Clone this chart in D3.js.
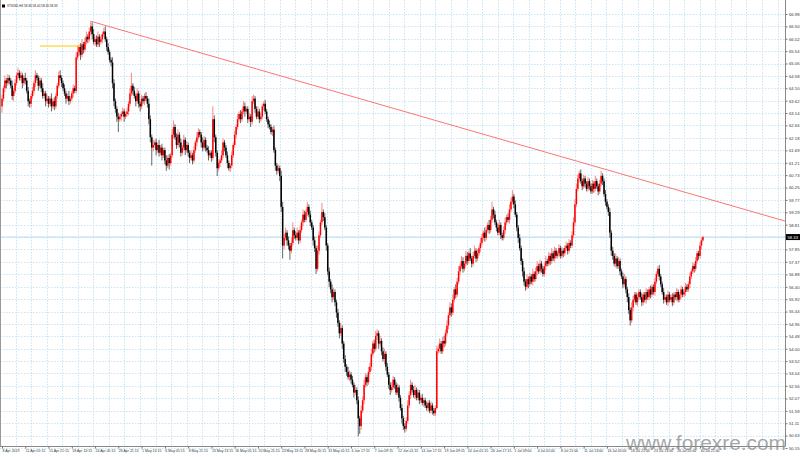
<!DOCTYPE html>
<html><head><meta charset="utf-8">
<script src="https://cdn.jsdelivr.net/npm/d3@7"></script>
<style>body{margin:0;background:#fff}svg{display:block}</style>
</head><body><svg id="c" width="800" height="457"></svg>
<script>
// ---- data ----
const title = "XTIUSD,H4  58.36 58.40 58.30 58.33";
const firstOpen = 63.4;
const closes = [
63.7,64.1,64.4,64.3,64.5,64.4,64.2,63.8,64.0,64.3,64.6,64.7,64.5,64.6,64.3,64.5,64.4,64.0,63.6,63.5,
63.8,64.0,64.3,64.6,64.5,64.2,64.4,64.1,63.8,63.9,63.6,63.7,63.5,63.7,63.4,63.6,63.4,63.8,64.2,64.6,
64.5,64.3,64.1,63.9,63.7,63.8,63.6,63.7,63.9,64.1,64.0,65.3,65.5,65.7,65.4,65.8,65.6,65.9,66.1,66.0,
66.3,66.5,66.2,65.9,66.0,65.8,66.1,65.9,66.0,66.2,66.3,66.0,65.7,65.5,65.2,65.1,64.3,63.6,63.3,63.0,
62.9,63.0,63.1,63.2,63.0,63.1,63.2,63.5,63.9,64.2,64.0,63.8,63.6,63.9,63.5,63.4,63.7,63.6,63.8,63.7,
63.5,62.9,62.2,61.8,61.9,62.0,61.7,61.9,61.6,61.8,61.5,61.7,61.3,61.1,61.4,61.2,61.5,62.3,62.6,62.2,
61.9,62.3,62.0,61.6,61.8,62.1,61.7,61.9,61.6,61.4,61.5,61.3,61.7,62.0,62.2,62.4,62.3,62.0,61.8,62.1,
61.8,61.7,61.5,61.6,61.4,62.9,62.2,61.6,61.0,61.2,61.3,61.5,62.0,61.8,61.5,61.2,61.0,61.1,61.5,61.9,
62.3,62.6,62.9,63.1,62.9,63.2,63.4,63.2,63.3,62.9,63.0,62.8,63.6,63.7,63.3,63.0,63.2,62.9,63.0,63.4,
63.5,63.2,62.9,62.7,62.6,62.4,62.5,61.7,61.1,60.9,61.0,60.7,59.5,58.0,58.3,58.5,58.2,58.0,57.8,58.1,
58.6,58.4,58.3,58.5,58.2,58.6,58.9,59.2,59.0,59.3,59.5,59.2,58.9,58.7,58.2,57.9,57.1,57.8,58.4,58.9,
59.3,59.1,58.7,58.0,57.0,56.6,56.3,56.0,56.2,55.8,55.4,55.0,54.6,54.8,54.2,53.6,53.3,53.1,52.9,53.0,
52.8,52.6,52.3,52.4,52.0,51.3,51.0,51.6,52.0,52.6,52.9,52.7,53.1,53.3,53.8,54.2,54.0,54.5,54.6,54.2,
54.3,53.9,53.6,53.8,53.3,53.0,52.6,52.4,52.5,52.8,52.6,52.3,52.5,52.1,51.7,51.3,51.0,50.9,51.2,51.8,
52.2,52.6,52.4,52.2,52.4,52.1,52.3,52.0,52.1,51.9,52.0,51.8,51.7,51.9,51.6,51.8,51.6,51.5,51.7,53.9,
54.0,54.2,53.9,54.3,54.2,54.6,54.9,55.3,55.6,55.4,55.9,56.3,56.1,56.6,57.0,57.2,57.4,57.1,57.3,57.6,
57.4,57.7,57.5,57.3,57.6,57.8,57.5,57.7,57.9,58.1,58.3,58.5,58.3,58.6,58.8,58.6,59.0,59.4,59.2,58.9,
58.7,58.5,58.8,58.4,58.3,58.6,58.9,59.1,59.0,59.4,59.7,59.9,59.6,59.2,58.7,58.3,57.9,57.4,57.0,56.6,
56.4,56.7,56.5,56.8,56.6,56.9,56.7,57.0,57.2,57.0,57.3,57.1,56.9,57.2,57.4,57.3,57.6,57.4,57.7,57.5,
57.8,57.6,57.7,57.9,57.6,57.8,57.7,57.9,58.0,57.8,58.1,58.0,58.4,58.9,59.6,60.2,60.6,60.8,60.5,60.3,
60.6,60.4,60.2,60.5,60.3,60.1,60.4,60.2,60.5,60.3,60.1,60.4,60.7,60.5,60.0,59.7,59.5,59.3,58.5,57.8,
57.6,57.3,57.5,57.2,57.4,57.0,56.8,56.5,56.7,56.3,56.0,55.5,55.1,55.6,55.9,56.1,55.8,56.0,56.2,56.0,
55.8,56.1,55.9,56.2,56.0,56.3,56.1,56.4,56.2,56.6,56.9,57.1,56.8,56.5,56.2,55.9,56.0,55.8,56.1,55.9,
56.0,55.8,56.1,56.0,56.2,55.9,56.1,56.3,56.1,56.2,56.4,56.3,56.5,56.8,57.0,57.2,57.1,57.4,57.7,57.6,
58.0,58.2,58.33];
const upWick = [
0.15,0.1,0.2,0.1,0.15,0.1,0.1,0.2,0.1,0.15,0.1,0.2,0.1,0.15,0.1,0.1,0.2,0.1,0.15,0.1,
0.1,0.15,0.1,0.2,0.1,0.1,0.15,0.1,0.2,0.1,0.1,0.15,0.1,0.1,0.2,0.1,0.15,0.1,0.1,0.15,
0.2,0.1,0.1,0.15,0.1,0.1,0.2,0.1,0.1,0.15,0.1,0.2,0.25,0.1,0.15,0.2,0.1,0.15,0.2,0.1,
0.15,0.2,0.15,0.2,0.1,0.15,0.2,0.1,0.15,0.1,0.15,0.2,0.1,0.15,0.1,0.1,0.2,0.15,0.1,0.1,
0.15,0.1,0.1,0.15,0.1,0.1,0.15,0.1,0.2,0.5,0.1,0.15,0.1,0.2,0.1,0.1,0.15,0.1,0.1,0.15,
0.1,0.2,0.15,0.1,0.2,0.1,0.15,0.1,0.2,0.1,0.15,0.1,0.1,0.2,0.1,0.15,0.1,0.2,0.25,0.1,
0.15,0.2,0.1,0.15,0.1,0.2,0.1,0.15,0.1,0.1,0.2,0.1,0.15,0.1,0.2,0.15,0.1,0.1,0.2,0.15,
0.1,0.1,0.15,0.1,0.1,0.5,0.15,0.1,0.1,0.15,0.1,0.2,0.15,0.1,0.1,0.15,0.1,0.1,0.15,0.1,
0.15,0.1,0.2,0.1,0.15,0.1,0.2,0.15,0.1,0.1,0.15,0.1,0.2,0.15,0.1,0.1,0.2,0.1,0.15,0.1,
0.1,0.15,0.1,0.1,0.15,0.1,0.1,0.15,0.1,0.1,0.15,0.1,0.2,0.2,0.15,0.2,0.1,0.15,0.1,0.2,
0.3,0.1,0.15,0.2,0.1,0.15,0.1,0.2,0.15,0.1,0.2,0.1,0.15,0.1,0.1,0.15,0.1,0.2,0.15,0.1,
0.35,0.1,0.15,0.1,0.1,0.15,0.1,0.2,0.15,0.1,0.1,0.15,0.1,0.2,0.1,0.1,0.15,0.1,0.2,0.15,
0.1,0.15,0.1,0.2,0.1,0.15,0.1,0.2,0.15,0.2,0.15,0.1,0.2,0.15,0.2,0.1,0.15,0.2,0.15,0.1,
0.2,0.1,0.15,0.2,0.1,0.15,0.1,0.1,0.2,0.15,0.1,0.1,0.15,0.1,0.1,0.15,0.1,0.1,0.15,0.2,
0.15,0.2,0.1,0.15,0.2,0.1,0.15,0.1,0.1,0.15,0.1,0.1,0.15,0.1,0.1,0.15,0.1,0.1,0.1,0.2,
0.15,0.2,0.1,0.15,0.2,0.15,0.2,0.1,0.2,0.15,0.2,0.1,0.2,0.15,0.2,0.1,0.2,0.15,0.1,0.2,
0.15,0.1,0.2,0.1,0.15,0.2,0.1,0.15,0.1,0.2,0.15,0.1,0.2,0.15,0.1,0.2,0.15,0.3,0.1,0.15,
0.1,0.15,0.2,0.1,0.1,0.15,0.2,0.1,0.15,0.2,0.15,0.25,0.1,0.15,0.1,0.1,0.15,0.1,0.1,0.15,
0.1,0.2,0.1,0.15,0.1,0.2,0.1,0.15,0.2,0.1,0.15,0.1,0.1,0.15,0.2,0.1,0.15,0.1,0.2,0.1,
0.15,0.1,0.1,0.15,0.1,0.15,0.1,0.1,0.15,0.1,0.15,0.1,0.15,0.2,0.2,0.2,0.15,0.1,0.15,0.1,
0.15,0.1,0.1,0.15,0.1,0.1,0.15,0.1,0.2,0.1,0.1,0.15,0.2,0.1,0.1,0.15,0.1,0.1,0.15,0.1,
0.15,0.1,0.2,0.1,0.15,0.1,0.1,0.15,0.2,0.1,0.1,0.15,0.1,0.2,0.15,0.1,0.1,0.15,0.1,0.1,
0.15,0.1,0.1,0.15,0.1,0.1,0.15,0.1,0.1,0.15,0.1,0.1,0.15,0.1,0.1,0.15,0.1,0.1,0.15,0.1,
0.1,0.15,0.1,0.1,0.15,0.1,0.1,0.15,0.1,0.1,0.15,0.1,0.1,0.15,0.1,0.15,0.1,0.15,0.1,0.1,
0.15,0.1,0.05];
const downWick = [
0.25,0.1,0.15,0.2,0.1,0.15,0.1,0.15,0.2,0.1,0.1,0.15,0.1,0.1,0.2,0.1,0.15,0.1,0.2,0.15,
0.15,0.1,0.1,0.15,0.1,0.2,0.1,0.15,0.1,0.1,0.2,0.1,0.15,0.1,0.2,0.1,0.15,0.1,0.1,0.1,
0.1,0.15,0.1,0.1,0.2,0.1,0.15,0.1,0.1,0.15,0.1,0.1,0.1,0.15,0.2,0.1,0.15,0.1,0.1,0.15,
0.1,0.15,0.2,0.1,0.15,0.1,0.1,0.2,0.1,0.15,0.1,0.1,0.15,0.1,0.1,0.15,0.2,0.2,0.15,0.2,
0.5,0.1,0.15,0.1,0.2,0.1,0.1,0.15,0.1,0.1,0.15,0.1,0.2,0.1,0.15,0.2,0.1,0.1,0.15,0.1,
0.15,0.2,0.2,0.7,0.15,0.1,0.2,0.1,0.15,0.1,0.2,0.1,0.15,0.2,0.1,0.25,0.1,0.1,0.15,0.1,
0.15,0.1,0.2,0.15,0.1,0.1,0.2,0.1,0.15,0.2,0.1,0.15,0.1,0.1,0.15,0.1,0.1,0.2,0.15,0.1,
0.15,0.1,0.2,0.1,0.15,0.1,0.2,0.15,0.3,0.1,0.15,0.1,0.1,0.15,0.1,0.2,0.1,0.15,0.1,0.1,
0.1,0.15,0.1,0.1,0.15,0.1,0.1,0.2,0.1,0.15,0.1,0.2,0.1,0.1,0.15,0.1,0.1,0.15,0.1,0.1,
0.15,0.1,0.1,0.15,0.1,0.1,0.15,0.1,0.2,0.15,0.1,0.2,0.2,0.5,0.15,0.1,0.2,0.15,0.35,0.1,
0.1,0.15,0.1,0.1,0.15,0.1,0.1,0.15,0.1,0.1,0.15,0.1,0.15,0.1,0.2,0.15,0.2,0.1,0.15,0.1,
0.1,0.15,0.1,0.2,0.15,0.2,0.15,0.2,0.1,0.15,0.2,0.15,0.2,0.1,0.2,0.15,0.2,0.15,0.1,0.15,
0.15,0.1,0.2,0.1,0.15,0.7,0.3,0.15,0.1,0.15,0.1,0.15,0.1,0.1,0.15,0.1,0.15,0.1,0.15,0.2,
0.1,0.15,0.1,0.2,0.15,0.1,0.15,0.2,0.1,0.1,0.15,0.1,0.1,0.15,0.1,0.2,0.15,0.15,0.1,0.1,
0.1,0.15,0.1,0.1,0.15,0.1,0.1,0.15,0.1,0.1,0.15,0.1,0.1,0.15,0.1,0.1,0.15,0.1,0.1,0.05,
0.1,0.15,0.1,0.1,0.15,0.1,0.1,0.15,0.1,0.15,0.1,0.1,0.15,0.1,0.1,0.15,0.1,0.15,0.1,0.1,
0.15,0.1,0.1,0.15,0.1,0.1,0.15,0.1,0.1,0.15,0.1,0.1,0.15,0.1,0.1,0.15,0.1,0.1,0.15,0.1,
0.15,0.1,0.1,0.15,0.1,0.1,0.15,0.1,0.1,0.15,0.1,0.1,0.15,0.1,0.15,0.2,0.1,0.15,0.2,0.15,
0.15,0.1,0.15,0.1,0.1,0.15,0.1,0.1,0.15,0.1,0.1,0.15,0.1,0.1,0.15,0.1,0.1,0.15,0.1,0.1,
0.15,0.1,0.1,0.15,0.1,0.1,0.15,0.1,0.1,0.15,0.1,0.1,0.1,0.1,0.15,0.1,0.1,0.15,0.1,0.15,
0.1,0.15,0.1,0.1,0.15,0.1,0.1,0.15,0.1,0.1,0.15,0.1,0.1,0.15,0.1,0.15,0.1,0.15,0.2,0.2,
0.15,0.1,0.15,0.1,0.1,0.15,0.1,0.15,0.1,0.15,0.2,0.15,0.2,0.1,0.15,0.1,0.1,0.15,0.1,0.1,
0.15,0.1,0.1,0.15,0.1,0.1,0.15,0.1,0.1,0.15,0.1,0.1,0.15,0.1,0.1,0.15,0.1,0.1,0.15,0.1,
0.1,0.15,0.1,0.1,0.15,0.1,0.1,0.15,0.1,0.1,0.15,0.1,0.1,0.15,0.1,0.1,0.15,0.1,0.1,0.15,
0.1,0.15,0.05];
const priceTicks = [66.98,66.50,66.02,65.54,65.06,64.58,64.10,63.62,63.14,62.66,62.18,61.69,61.21,60.73,60.25,59.77,59.29,58.81,58.33,57.85,57.37,56.88,56.40,55.92,55.44,54.96,54.48,54.00,53.52,53.04,52.56,52.07,51.59,51.11,50.63,50.15];
const timeLabels = ["8 Apr 2019","11 Apr 05:15","15 Apr 21:15","18 Apr 13:15","24 Apr 05:15","26 Apr 21:15","1 May 13:15","6 May 05:15","8 May 21:15","13 May 13:15","16 May 05:15","20 May 21:15","23 May 13:15","28 May 05:15","31 May 01:15","4 Jun 17:15","7 Jun 09:15","12 Jun 01:15","14 Jun 17:15","19 Jun 09:15","24 Jun 01:15","26 Jun 17:15","1 Jul 09:00","4 Jul 01:00","8 Jul 21:00","11 Jul 13:00","16 Jul 05:00","18 Jul 21:00","23 Jul 13:00","26 Jul 05:00","30 Jul 21:00"];
const barsPerLabel = 16;
const trendLine = [{i:61, p:66.7}, {i:538.5, p:58.95}];
const yellowLine = [{i:26, p:65.74}, {i:53.6, p:65.74}];
const lastPrice = 58.33;
const watermark = "www.forexre.com";

// ---- drawing ----
const svg = d3.select("#c");
const plotR = 785, plotB = 446.5;
const x = d3.scaleLinear().domain([0, 480]).range([2, 700]);
const y = d3.scaleLinear().domain([50.15, 66.98]).range([448, 14]);

svg.append("rect").attr("width",800).attr("height",457).attr("fill","#fff");
svg.append("clipPath").attr("id","pc").append("rect").attr("x",0).attr("y",0).attr("width",plotR).attr("height",plotB);

const grid = svg.append("g").attr("stroke","#b9def5").attr("stroke-width",0.8).attr("stroke-dasharray","1.5,1.5");
grid.selectAll(".h").data(priceTicks).enter().append("line")
  .attr("x1",0).attr("x2",plotR).attr("y1",d=>Math.round(y(d))+0.5).attr("y2",d=>Math.round(y(d))+0.5);
grid.selectAll(".v").data(d3.range(15.55, plotR, 15.55)).enter().append("line")
  .attr("x1",d=>Math.round(d)+0.5).attr("x2",d=>Math.round(d)+0.5).attr("y1",0).attr("y2",plotB);

// bid line
svg.append("line").attr("x1",0).attr("x2",plotR).attr("y1",y(lastPrice)).attr("y2",y(lastPrice))
  .attr("stroke","#b4dcf4").attr("stroke-width",1);

// candles
const bars = closes.map((c,i)=>{
  const o = i===0 ? firstOpen : closes[i-1];
  return {i, o, c, h: Math.max(o,c)+upWick[i], l: Math.min(o,c)-downWick[i]};
});
const cg = svg.append("g").attr("clip-path","url(#pc)");
cg.selectAll("line.w").data(bars).enter().append("line")
  .attr("x1",d=>x(d.i)).attr("x2",d=>x(d.i)).attr("y1",d=>y(d.h)).attr("y2",d=>y(d.l))
  .attr("stroke",d=>d.c>d.o?"#ff5c5c":"#333").attr("stroke-width",0.75);
cg.selectAll("rect.b").data(bars).enter().append("rect")
  .attr("x",d=>x(d.i)-0.75).attr("width",1.5)
  .attr("y",d=>y(Math.max(d.o,d.c))).attr("height",d=>Math.max(0.6, Math.abs(y(d.o)-y(d.c))))
  .attr("fill",d=>d.c>d.o?"#ff0000":"#000");

// trend line and horizontal yellow line
const ln = d3.line().x(d=>x(d.i)).y(d=>y(d.p));
cg.append("path").attr("d",ln(trendLine)).attr("fill","none").attr("stroke","#ff6464").attr("stroke-width",0.9);
cg.append("path").attr("d",ln(yellowLine)).attr("fill","none").attr("stroke","#ffcc00").attr("stroke-width",1.2);

// frame
svg.append("line").attr("x1",0.5).attr("x2",0.5).attr("y1",0).attr("y2",plotB).attr("stroke","#999").attr("stroke-width",1);

// price axis
const ya = d3.axisRight(y).tickValues(priceTicks).tickSize(2).tickPadding(1.5).tickFormat(d3.format(".2f"));
const yg = svg.append("g").attr("transform",`translate(${plotR+0.5},0)`).call(ya);
yg.select(".domain").attr("stroke","#888").attr("d",`M0,0V${plotB}`);
yg.selectAll(".tick line").attr("stroke","#777");
yg.selectAll(".tick text").attr("font-family","Liberation Sans, Arial, sans-serif").attr("font-size",4.2).attr("fill","#333");

// time axis
const ticksIdx = timeLabels.map((t,k)=>k*barsPerLabel);
const xa = d3.axisBottom(x).tickValues(ticksIdx).tickSize(2).tickPadding(2).tickFormat((d,k)=>timeLabels[k]);
const xg = svg.append("g").attr("transform",`translate(0,${plotB})`).call(xa);
xg.select(".domain").attr("stroke","#888").attr("d",`M0,0H${plotR}`);
xg.selectAll(".tick line").attr("stroke","#777");
xg.selectAll(".tick text").attr("text-anchor","start").attr("font-family","Liberation Sans, Arial, sans-serif")
  .attr("font-size",3.5).attr("fill","#333").attr("dy","0.55em");

// current price box
const yp = y(lastPrice);
svg.append("rect").attr("x",plotR+1).attr("y",yp-3).attr("width",14).attr("height",6).attr("fill","#000");
svg.append("text").attr("x",plotR+2.5).attr("y",yp+1.5).attr("font-family","Liberation Sans, Arial, sans-serif")
  .attr("font-size",4.2).attr("fill","#fff").text(lastPrice.toFixed(2));

// title
svg.append("path").attr("d","M2,4.5h3v3h-3z").attr("fill","#000");
svg.append("text").attr("x",7).attr("y",7.2).attr("font-family","Liberation Sans, Arial, sans-serif")
  .attr("font-size",3.1).attr("fill","#222").text(title);

// watermark
svg.append("text").attr("x",626).attr("y",450).attr("font-family","Liberation Sans, Arial, sans-serif")
  .attr("font-size",21).attr("fill","#8f8f8f").attr("fill-opacity",0.8)
  .attr("textLength",160).attr("lengthAdjust","spacingAndGlyphs").text(watermark);
</script></body></html>
